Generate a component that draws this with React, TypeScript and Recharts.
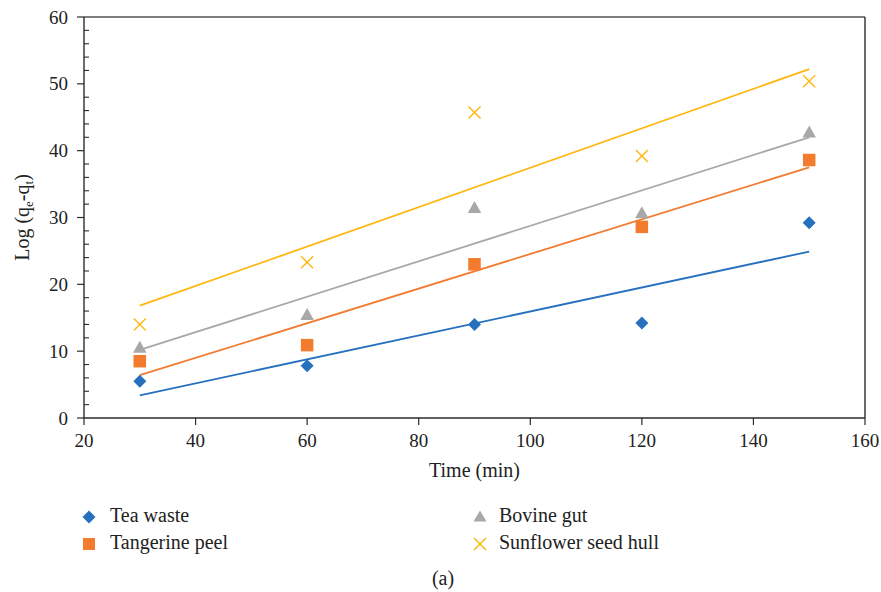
import React from 'react';
import { ComposedChart, Line, Scatter, XAxis, YAxis, ReferenceLine } from 'recharts';

const times = [30, 60, 90, 120, 150];
const teaWaste = [5.5, 7.8, 14.0, 14.2, 29.2];
const tangerinePeel = [8.5, 10.9, 23.0, 28.6, 38.6];
const bovineGut = [10.5, 15.4, 31.4, 30.6, 42.7];
const sunflowerHull = [14.0, 23.3, 45.7, 39.2, 50.4];

// trendline end values (at first and last time)
const teaTrend = [3.4, 24.9];
const tangerineTrend = [6.4, 37.5];
const bovineTrend = [10.2, 42.0];
const sunflowerTrend = [16.8, 52.2];

const xTicks = [20, 40, 60, 80, 100, 120, 140, 160];
const yTicks = [0, 2, 4, 6, 8, 10, 12, 14, 16, 18, 20, 22, 24, 26, 28, 30, 32, 34, 36, 38, 40, 42, 44, 46, 48, 50, 52, 54, 56, 58, 60];
const yMajor = [0, 10, 20, 30, 40, 50, 60];

const seriesNames = ['Tea waste', 'Tangerine peel', 'Bovine gut', 'Sunflower seed hull'];

const BLUE = '#2670BE';
const ORANGE = '#F27B2E';
const GRAY = '#A8A8A8';
const YELLOW = '#FFB60F';
const FONT = "'Liberation Serif', 'Times New Roman', serif";
const AXIS = '#2b2b2b';
const TXT = { fontFamily: FONT } as React.CSSProperties;

const last = times.length - 1;
const data = times.map((t, i) => ({
  time: t,
  tea: teaWaste[i],
  tangerine: tangerinePeel[i],
  bovine: bovineGut[i],
  sunflower: sunflowerHull[i],
  teaFit: i === 0 ? teaTrend[0] : i === last ? teaTrend[1] : null,
  tangerineFit: i === 0 ? tangerineTrend[0] : i === last ? tangerineTrend[1] : null,
  bovineFit: i === 0 ? bovineTrend[0] : i === last ? bovineTrend[1] : null,
  sunflowerFit: i === 0 ? sunflowerTrend[0] : i === last ? sunflowerTrend[1] : null,
}));

const Diamond = ({ cx, cy, r = 6.5 }: any) => (
  <polygon points={`${cx},${cy - r} ${cx + r},${cy} ${cx},${cy + r} ${cx - r},${cy}`} fill={BLUE} />
);
const Square = ({ cx, cy, s = 12.5 }: any) => (
  <rect x={cx - s / 2} y={cy - s / 2} width={s} height={s} fill={ORANGE} />
);
const Triangle = ({ cx, cy, w = 13.5, h = 12 }: any) => (
  <polygon points={`${cx},${cy - h * 0.6} ${cx + w / 2},${cy + h * 0.4} ${cx - w / 2},${cy + h * 0.4}`} fill={GRAY} />
);
const Cross = ({ cx, cy, r = 6 }: any) => (
  <g stroke={YELLOW} strokeWidth={1.4}>
    <line x1={cx - r} y1={cy - r} x2={cx + r} y2={cy + r} />
    <line x1={cx - r} y1={cy + r} x2={cx + r} y2={cy - r} />
  </g>
);

const YTick = (props: any) => {
  const { x, y, payload } = props;
  const v = payload.value;
  const major = yMajor.includes(v);
  if (major) {
    return (
      <g>
        <line x1={x - 7} x2={x} y1={y} y2={y} stroke={AXIS} strokeWidth={1.2} />
        <text x={x - 16} y={y} dy="0.35em" textAnchor="end" style={TXT} fontSize={19} fill="#222">
          {v}
        </text>
      </g>
    );
  }
  return <line x1={x} x2={x + 5} y1={y} y2={y} stroke={AXIS} strokeWidth={1.1} />;
};

const XTick = (props: any) => {
  const { x, y, payload } = props;
  return (
    <text x={x} y={y} dy="0.71em" textAnchor="middle" style={TXT} fontSize={19} fill="#222">
      {payload.value}
    </text>
  );
};

export default function App() {
  return (
    <div style={{ position: 'relative', width: 881, height: 592, boxSizing: 'border-box', padding: 0, margin: 0 }}>
      <style>{`html,body{margin:0;padding:0;overflow:hidden;} #root{width:881px;height:592px;}`}</style>
      <div style={{ position: 'absolute', left: 8, top: 8, width: 873, height: 584 }}>
        <ComposedChart
          width={873}
          height={584}
          data={data}
          margin={{ top: 9, right: 16, left: 16, bottom: 114 }}
        >
          <XAxis
            dataKey="time"
            type="number"
            domain={[20, 160]}
            ticks={xTicks}
            interval={0}
            height={60}
            tickSize={7}
            tickMargin={9}
            axisLine={{ stroke: AXIS, strokeWidth: 1.4 }}
            tickLine={{ stroke: AXIS, strokeWidth: 1.2 }}
            tick={<XTick />}
            label={{
              content: (p: any) => {
                const vb = p.viewBox || {};
                return (
                  <text x={vb.x + vb.width / 2} y={vb.y + 59} textAnchor="middle" style={TXT} fontSize={20} fill="#222">
                    Time (min)
                  </text>
                );
              },
            }}
          />
          <YAxis
            type="number"
            domain={[0, 60]}
            ticks={yTicks}
            interval={0}
            width={60}
            tickSize={0}
            tickMargin={0}
            tickLine={false}
            axisLine={{ stroke: AXIS, strokeWidth: 1.4 }}
            tick={<YTick />}
            label={{
              content: (p: any) => {
                const vb = p.viewBox || {};
                const cx = 21;
                const cy = vb.y + vb.height / 2;
                return (
                  <text
                    x={cx}
                    y={cy}
                    transform={`rotate(-90, ${cx}, ${cy})`}
                    textAnchor="middle"
                    style={TXT}
                    fontSize={20}
                    fill="#222"
                  >
                    Log (q<tspan fontSize={13} dy={4}>e</tspan>
                    <tspan dy={-4}>-q</tspan>
                    <tspan fontSize={13} dy={4}>t</tspan>
                    <tspan dy={-4}>)</tspan>
                  </text>
                );
              },
            }}
          />
          <ReferenceLine y={60} stroke="#555" strokeWidth={1.4} />
          <ReferenceLine x={160} stroke={AXIS} strokeWidth={1.4} />

          <Line dataKey="teaFit" stroke={BLUE} strokeWidth={1.8} dot={false} connectNulls isAnimationActive={false} />
          <Line dataKey="tangerineFit" stroke={ORANGE} strokeWidth={1.8} dot={false} connectNulls isAnimationActive={false} />
          <Line dataKey="bovineFit" stroke={GRAY} strokeWidth={1.8} dot={false} connectNulls isAnimationActive={false} />
          <Line dataKey="sunflowerFit" stroke={YELLOW} strokeWidth={1.8} dot={false} connectNulls isAnimationActive={false} />

          <Scatter dataKey="tea" name={seriesNames[0]} shape={(p: any) => <Diamond cx={p.cx} cy={p.cy} />} isAnimationActive={false} />
          <Scatter dataKey="tangerine" name={seriesNames[1]} shape={(p: any) => <Square cx={p.cx} cy={p.cy} />} isAnimationActive={false} />
          <Scatter dataKey="bovine" name={seriesNames[2]} shape={(p: any) => <Triangle cx={p.cx} cy={p.cy} />} isAnimationActive={false} />
          <Scatter dataKey="sunflower" name={seriesNames[3]} shape={(p: any) => <Cross cx={p.cx} cy={p.cy} />} isAnimationActive={false} />
        </ComposedChart>

        <svg width={873} height={584} style={{ position: 'absolute', left: 0, top: 0, pointerEvents: 'none' }}>
          <Diamond cx={81} cy={509} r={6.5} />
          <text x={102} y={514} style={TXT} fontSize={20} fill="#222">{seriesNames[0]}</text>
          <Square cx={81} cy={536} s={12} />
          <text x={102} y={541} style={TXT} fontSize={20} fill="#222">{seriesNames[1]}</text>
          <Triangle cx={472} cy={509} w={13} h={11} />
          <text x={491} y={514} style={TXT} fontSize={20} fill="#222">{seriesNames[2]}</text>
          <Cross cx={472} cy={536} r={6} />
          <text x={491} y={541} style={TXT} fontSize={20} fill="#222">{seriesNames[3]}</text>
          <text x={435} y={577} textAnchor="middle" style={TXT} fontSize={20} fill="#222">(a)</text>
        </svg>
      </div>
    </div>
  );
}
